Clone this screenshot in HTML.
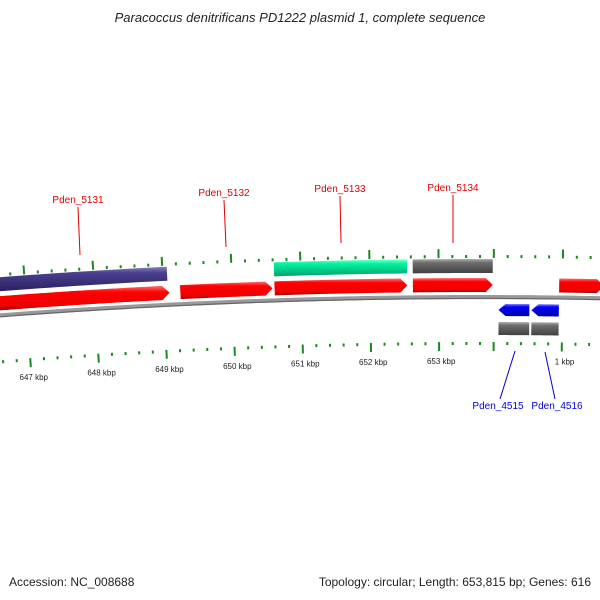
<!DOCTYPE html>
<html><head><meta charset="utf-8"><style>
body{margin:0;background:#fff;}
svg{display:block;font-family:"Liberation Sans","DejaVu Sans",sans-serif;}
</style></head><body>
<svg id="c" width="600" height="600">
<defs>
<linearGradient id="gRed" x1="0" y1="0" x2="0" y2="1"><stop offset="0" stop-color="#ff7070"/><stop offset="0.25" stop-color="#ff0000"/><stop offset="0.8" stop-color="#f00000"/><stop offset="1" stop-color="#a00000"/></linearGradient>
<linearGradient id="gBlue" x1="0" y1="0" x2="0" y2="1"><stop offset="0" stop-color="#7070ff"/><stop offset="0.25" stop-color="#0000ff"/><stop offset="1" stop-color="#0000a0"/></linearGradient>
<linearGradient id="gPur" x1="0" y1="0" x2="0" y2="1"><stop offset="0" stop-color="#8a80c0"/><stop offset="0.25" stop-color="#4a3f8f"/><stop offset="1" stop-color="#2a2060"/></linearGradient>
<linearGradient id="gGrn" x1="0" y1="0" x2="0" y2="1"><stop offset="0" stop-color="#80ffd0"/><stop offset="0.25" stop-color="#00f5a0"/><stop offset="1" stop-color="#00a070"/></linearGradient>
<linearGradient id="gGry" x1="0" y1="0" x2="0" y2="1"><stop offset="0" stop-color="#b0b0b0"/><stop offset="0.25" stop-color="#6e6e6e"/><stop offset="1" stop-color="#404040"/></linearGradient>
</defs>
<text x="300" y="22" text-anchor="middle" font-size="13" font-style="italic" fill="#222">Paracoccus denitrificans PD1222 plasmid 1, complete sequence</text>
<text x="9" y="586" font-size="12" fill="#222">Accession: NC_008688</text>
<text x="591" y="586" text-anchor="end" font-size="12" fill="#222">Topology: circular; Length: 653,815 bp; Genes: 616</text>
</svg>
<script>
const genomeLen = 653.815;
const geneNames = ['Pden_5131','', '', '', '', 'Pden_5132','Pden_5133','Pden_5134','', 'Pden_4515','Pden_4516','', ''];
const geneStarts = [646.62, 646.62, 652.64, 650.63, 646.62, 649.26, 650.63, 652.64, 0.95, 0.07, 0.55, 0.07, 0.55];
const geneEnds   = [649.08, 649.10, 653.80, 652.56, 649.10, 650.60, 652.56, 653.80, 1.60, 0.52, 0.95, 0.52, 0.95];
const geneStrand = [0, 1, 0, 0, 1, 1, 1, 1, 1, -1, -1, 0, 0];
const geneLane   = ['up','red','up','up','red','red','red','red','red','blue','blue','low','low'];
const geneColor  = ['gPur','gRed','gGry','gGrn','gRed','gRed','gRed','gRed','gRed','gBlue','gBlue','gGry','gGry'];
const tickLabels = ['647 kbp','648 kbp','649 kbp','650 kbp','651 kbp','652 kbp','653 kbp','1 kbp'];
const tickPos    = [647, 648, 649, 650, 651, 652, 653, 1];

const svg=document.getElementById('c');
const NS='http://www.w3.org/2000/svg';
const R=6300, cx=480, cy=297+R, kbpPx=68.7, uTop=-0.2;
function unwrap(p){return p>400?p-genomeLen:p;}
function ang(p){return (unwrap(p)-uTop)*kbpPx/R;}
function pt(p,off){const a=ang(p),r=R+off;return [cx+r*Math.sin(a),cy-r*Math.cos(a)];}
function el(t,a){const e=document.createElementNS(NS,t);for(const k in a)e.setAttribute(k,a[k]);svg.appendChild(e);return e;}
function arcPts(s,e,off,n){const out=[];for(let i=0;i<=n;i++){out.push(pt(s+(unwrap(e)-unwrap(s))*i/n,off));}return out;}

// backbone
const b1=el('polyline',{points:arcPts(645.5,2.2,0,80).map(q=>q.join(',')).join(' '),fill:'none',stroke:'#999',"stroke-width":4});


const b2=el('polyline',{points:arcPts(645.5,2.2,-1.5,80).map(q=>q.join(',')).join(' '),fill:'none',stroke:'#666',"stroke-width":1.2});



// ticks
function drawTicks(base,dir){
  for(let u=-7.4;u<=1.8;u+=0.2){
    const uu=Math.round(u*10)/10;
    const p=uu<0?genomeLen+uu:uu;
    let major=false;
    for(const t of tickPos){if(Math.abs(unwrap(t)-uu)<0.05)major=true;}
    if(Math.abs(uu)<0.05)major=true;
    const len=major?9:3;
    const a=pt(p,base), b=pt(p,base+dir*len);
    const l=el('line',{x1:a[0],y1:a[1],x2:b[0],y2:b[1],stroke:'#1a8a1a',"stroke-width":2});
    
    
  }
}
drawTicks(39,1);
drawTicks(-45,-1);
tickPos.forEach((t,i)=>{
  const q=pt(t,-67);
  const tx=el('text',{x:q[0]+3,y:q[1],"text-anchor":"middle","font-size":8,fill:'#222'});
  tx.textContent=tickLabels[i];
  
  
});

// genes
const lanes={up:[38,24],red:[19,5],blue:[-7,-19],low:[-25,-38]};
geneStarts.forEach((s,i)=>{
  const e=geneEnds[i];const [o1,o2]=lanes[geneLane[i]];
  const st=geneStrand[i];const head=7/kbpPx;
  let s2=s,e2=e;
  if(st===1)e2=unwrap(e)-head; if(st===-1)s2=unwrap(s)+head;
  const toP=v=>v<0?genomeLen+v:v;
  const top=arcPts(toP(unwrap(s2)),toP(unwrap(e2)),o1,20);
  const bot=arcPts(toP(unwrap(s2)),toP(unwrap(e2)),o2,20).reverse();
  let pts=top.slice();
  if(st===1)pts.push(pt(e,(o1+o2)/2));
  pts=pts.concat(bot);
  if(st===-1)pts.push(pt(s,(o1+o2)/2));
  const g=el('polygon',{points:pts.map(q=>q.join(',')).join(' '),fill:'url(#'+geneColor[i]+')'});
  
  
});

// labels
function lab(name,tx,ty,lx1,ly1,lx2,ly2,col){
  const l=el('line',{x1:lx1,y1:ly1,x2:lx2,y2:ly2,stroke:col,"stroke-width":1});
  
  
  const t=el('text',{x:tx,y:ty,"text-anchor":"middle","font-size":10,fill:col});
  t.textContent=name;
  
  
}
lab(geneNames[0],78,203,78,207,80,255,'#e00000');
lab(geneNames[5],224,196,224,200,226,247,'#e00000');
lab(geneNames[6],340,192,340,196,341,243,'#e00000');
lab(geneNames[7],453,191,453,195,453,243,'#e00000');
lab(geneNames[9],498,409,515,351,500,399,'#0000e0');
lab(geneNames[10],557,409,545,352,555,399,'#0000e0');
</script>
</body></html>
